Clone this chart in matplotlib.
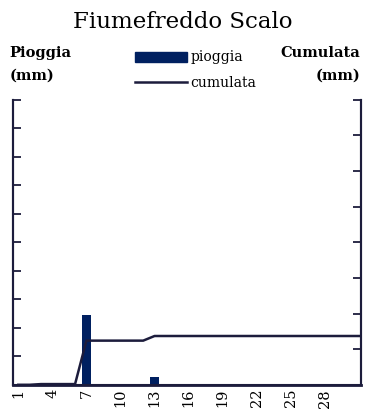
import matplotlib
matplotlib.use("Agg")
import matplotlib.pyplot as plt

# daily data for the month
days = list(range(1, 32))
pioggia = [0, 0, 0.2, 0, 0, 0, 12.2, 0, 0, 0, 0, 0, 1.3, 0, 0, 0, 0, 0, 0, 0,
           0, 0, 0, 0, 0, 0, 0, 0, 0, 0, 0]
cumulata = []
tot = 0
for p in pioggia:
    tot += p
    cumulata.append(tot)
xtick_days = list(range(1, 31, 3))

navy = "#002060"
dark = "#1c1c3c"
plt.rcParams['font.family'] = ['DejaVu Serif']

fig = plt.figure(figsize=(3.66, 4.16), dpi=100)
ax = fig.add_axes([0.036, 0.075, 0.951, 0.685])
ax2 = ax.twinx()

ax.bar(days, pioggia, width=0.8, color=navy)
ax2.plot(days, cumulata, color=dark, lw=1.8)

ax.set_xlim(0.55, 31.2)
ax.set_ylim(0, 50)
ax2.set_ylim(0, 80)
ax.set_yticks(range(0, 51, 5))
ax2.set_yticks(range(0, 81, 10))
ax.set_xticks(xtick_days)
ax.set_xticklabels([str(d) for d in xtick_days], rotation=90, fontsize=10.5)
ax.tick_params(axis='x', length=0, pad=3)
ax.tick_params(axis='y', direction='in', length=6, width=1.3, color=dark, labelleft=False)
ax2.tick_params(axis='y', direction='in', length=6, width=1.3, color=dark, labelright=False)

for a in (ax, ax2):
    a.spines['top'].set_visible(False)
    for s in ('left', 'right', 'bottom'):
        a.spines[s].set_color(dark)
        a.spines[s].set_linewidth(1.5)
ax.spines['bottom'].set_linewidth(2)

fig.text(0.5, 0.947, "Fiumefreddo Scalo", ha='center', va='center', fontsize=16.5)
fig.text(0.025, 0.845, "Pioggia\n(mm)", ha='left', va='center', fontsize=10.5,
         fontweight='bold', linespacing=1.8)
fig.text(0.985, 0.845, "Cumulata\n(mm)", ha='right', va='center', fontsize=10.5,
         fontweight='bold', linespacing=1.8, multialignment='right')

# legend drawn by hand in figure coords
fig.patches.append(plt.Rectangle((0.369, 0.851), 0.142, 0.024, transform=fig.transFigure,
                                 color=navy))
fig.lines.append(plt.Line2D([0.369, 0.511], [0.803, 0.803], transform=fig.transFigure,
                            color=dark, lw=1.8))
fig.text(0.52, 0.862, "pioggia", ha='left', va='center', fontsize=10)
fig.text(0.52, 0.8, "cumulata", ha='left', va='center', fontsize=10)

fig.savefig("out.png", dpi=100)
